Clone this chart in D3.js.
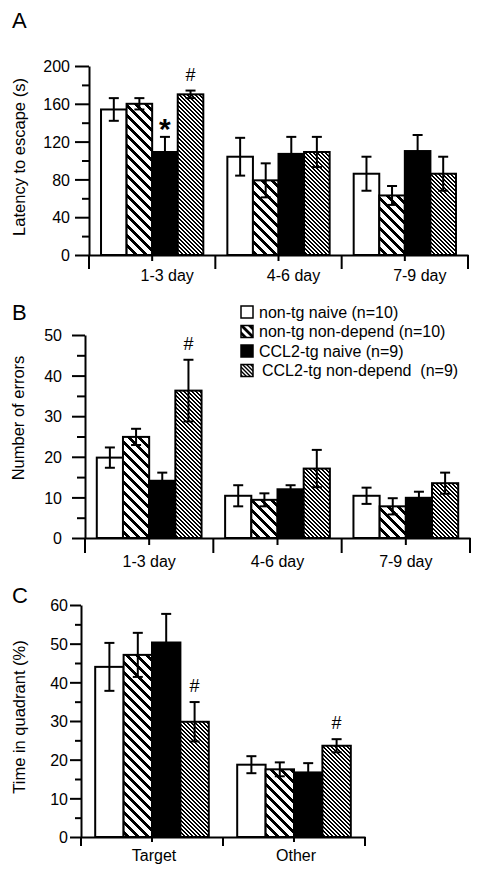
<!DOCTYPE html>
<html><head><meta charset="utf-8">
<script src="https://cdn.jsdelivr.net/npm/d3@7"></script>
<style>
body{margin:0;background:#fff}
svg{display:block}
text{font-family:"Liberation Sans",Arial,Helvetica,sans-serif;fill:#000}
</style>
</head><body>
<svg id="c" width="482" height="875"></svg>
<script>
// ---------------- DATA ----------------
const series = ["non-tg naive (n=10)", "non-tg non-depend (n=10)", "CCL2-tg naive (n=9)", "CCL2-tg non-depend  (n=9)"];
const dayCats = ["1-3 day", "4-6 day", "7-9 day"];
const quadCats = ["Target", "Other"];

const latencyMean = [[154, 160, 109, 170], [104, 79, 107, 109], [86, 63, 110, 86]];
const latencyErr  = [[12, 6, 16, 4], [20, 18, 18, 16], [18, 10, 17, 18]];
const errorsMean  = [[19.8, 24.9, 14.1, 36.3], [10.4, 9.4, 12.0, 17.1], [10.4, 7.8, 9.9, 13.5]];
const errorsErr   = [[2.5, 2.0, 2.0, 7.6], [2.6, 1.6, 1.0, 4.6], [2.0, 2.0, 1.5, 2.6]];
const quadMean    = [[44.0, 47.1, 50.3, 29.8], [18.7, 17.5, 16.7, 23.6]];
const quadErr     = [[6.2, 5.7, 7.4, 5.1], [2.2, 1.8, 2.4, 1.7]];

const latencyTicks = [0, 40, 80, 120, 160, 200];
const latencyMinor = [20, 60, 100, 140, 180];
const errorsTicks  = [0, 10, 20, 30, 40, 50];
const errorsMinor  = [5, 15, 25, 35, 45];
const quadTicks    = [0, 10, 20, 30, 40, 50, 60];
const quadMinor    = [5, 15, 25, 35, 45, 55];

const marksA = [{g: 0, s: 2, t: "*"}, {g: 0, s: 3, t: "#"}];
const marksB = [{g: 0, s: 3, t: "#"}];
const marksC = [{g: 0, s: 3, t: "#"}, {g: 1, s: 3, t: "#"}];

// ---------------- DRAW ----------------
const svg = d3.select("#c");
const defs = svg.append("defs");
// pixel-crisp diagonal stripes; dir = 1 gives "\" , dir = -1 gives "/"
function stripe(id, n, k, dir) {
  const p = defs.append("pattern").attr("id", id)
    .attr("patternUnits", "userSpaceOnUse").attr("width", n).attr("height", n);
  p.append("rect").attr("width", n).attr("height", n).attr("fill", "#fff");
  const cells = [];
  for (let yy = 0; yy < n; yy++) for (let xx = 0; xx < n; xx++) {
    const d = ((dir * (xx - yy)) % n + n) % n;
    if (d < k) cells.push([xx, yy]);
  }
  p.selectAll("rect.px").data(cells).join("rect").attr("class", "px")
    .attr("x", c => c[0]).attr("y", c => c[1]).attr("width", 1).attr("height", 1)
    .attr("fill", "#000").attr("shape-rendering", "crispEdges");
}
stripe("hatch", 10, 4, 1);
stripe("dense", 4, 2, 1);
stripe("legHatch", 8, 4, -1);
stripe("legDense", 4, 2, -1);
const fills = ["#fff", "url(#hatch)", "#000", "url(#dense)"];
const legFills = ["#fff", "url(#legHatch)", "#000", "url(#legDense)"];

function panel(cfg) {
  const g = svg.append("g");
  const y = d3.scaleLinear().domain([0, cfg.max]).range([cfg.yBot, cfg.yTop]);
  const x0 = d3.scaleBand().domain(cfg.cats).range([cfg.xL, cfg.xR]).padding(0);
  const x1 = d3.scaleBand().domain(d3.range(series.length)).range([0, x0.bandwidth()])
    .paddingInner(0).paddingOuter(cfg.outer);
  const bw = x1.bandwidth();
  const data = cfg.cats.flatMap((c, gi) => cfg.means[gi].map((v, si) => ({c, gi, si, v, e: cfg.errs[gi][si]})));

  g.selectAll("rect.bar").data(data).join("rect").attr("class", "bar")
    .attr("x", d => x0(d.c) + x1(d.si)).attr("width", bw)
    .attr("y", d => y(d.v)).attr("height", d => y(0) - y(d.v))
    .attr("fill", d => fills[d.si]).attr("stroke", "#000").attr("stroke-width", 2);

  const eb = g.selectAll("g.err").data(data).join("g").attr("class", "err")
    .attr("stroke", "#000").attr("stroke-width", 2);
  eb.append("line")
    .attr("x1", d => x0(d.c) + x1(d.si) + bw / 2).attr("x2", d => x0(d.c) + x1(d.si) + bw / 2)
    .attr("y1", d => y(d.v - d.e)).attr("y2", d => y(d.v + d.e));
  eb.append("line")
    .attr("x1", d => x0(d.c) + x1(d.si) + bw / 2 - 5).attr("x2", d => x0(d.c) + x1(d.si) + bw / 2 + 5)
    .attr("y1", d => y(d.v + d.e)).attr("y2", d => y(d.v + d.e));
  eb.filter(d => d.si !== 2).append("line")
    .attr("x1", d => x0(d.c) + x1(d.si) + bw / 2 - 5).attr("x2", d => x0(d.c) + x1(d.si) + bw / 2 + 5)
    .attr("y1", d => y(d.v - d.e)).attr("y2", d => y(d.v - d.e));

  // y axis
  const ya = g.append("g").attr("transform", `translate(${cfg.xL},0)`)
    .call(d3.axisLeft(y).tickValues(cfg.ticks).tickSize(cfg.majLen).tickSizeOuter(0)
      .tickPadding(cfg.tickPad).tickFormat(d3.format("d")));
  const ym = g.append("g").attr("transform", `translate(${cfg.xL},0)`)
    .call(d3.axisLeft(y).tickValues(cfg.minor).tickSize(cfg.minLen).tickFormat(""));
  ym.select(".domain").remove();

  // x axis
  const xa = g.append("g").attr("transform", `translate(0,${cfg.yBot})`)
    .call(d3.axisBottom(x0).tickSize(cfg.xShort).tickSizeOuter(0));
  xa.selectAll("text").attr("y", cfg.labOff).attr("dy", 0).attr("dx", cfg.labDx);
  const bounds = cfg.cats.map(c => x0(c)).concat([cfg.xR]);
  xa.selectAll("line.bound").data(bounds).join("line").attr("class", "bound")
    .attr("x1", d => d).attr("x2", d => d).attr("y1", 0).attr("y2", cfg.xLong).attr("stroke", "#000");

  [ya, ym, xa].forEach(a => {
    a.selectAll("path,line").attr("stroke", "#000").attr("stroke-width", 2);
    a.selectAll("text").attr("font-size", 16).attr("font-family", null);
  });
  ya.selectAll("text").attr("dy", "0.36em");

  // y title
  g.append("text").attr("transform", `translate(${cfg.titleX},${cfg.titleY}) rotate(-90)`)
    .attr("text-anchor", "middle").attr("dy", "0.36em").attr("font-size", 16.5).text(cfg.title);
  // panel letter
  g.append("text").attr("x", 12).attr("y", cfg.letterY).attr("font-size", 22).text(cfg.letter);

  // significance marks
  cfg.marks.forEach(m => {
    const v = cfg.means[m.g][m.s] + cfg.errs[m.g][m.s];
    const cx = x0(cfg.cats[m.g]) + x1(m.s) + bw / 2;
    if (m.t === "*") {
      g.append("text").attr("x", cx).attr("y", y(v) + 2).attr("text-anchor", "middle")
        .attr("font-size", 30).attr("font-weight", "bold").text(m.t);
    } else {
      g.append("text").attr("x", cx).attr("y", y(v) - 10).attr("text-anchor", "middle")
        .attr("font-size", 18).text(m.t);
    }
  });
}

panel({letter: "A", letterY: 28, title: "Latency to escape (s)", titleX: 19, titleY: 157,
  cats: dayCats, means: latencyMean, errs: latencyErr, ticks: latencyTicks, minor: latencyMinor, max: 200,
  xL: 89, xR: 468, yTop: 66, yBot: 255, outer: 0.47, majLen: 14, minLen: 7, tickPad: 5,
  xShort: 6, xLong: 14, labOff: 26, labDx: 15, marks: marksA});
panel({letter: "B", letterY: 320, title: "Number of errors", titleX: 18.5, titleY: 418,
  cats: dayCats, means: errorsMean, errs: errorsErr, ticks: errorsTicks, minor: errorsMinor, max: 50,
  xL: 85, xR: 470, yTop: 335, yBot: 538, outer: 0.45, majLen: 13, minLen: 8, tickPad: 10,
  xShort: 7, xLong: 15, labOff: 29, labDx: 0, marks: marksB});
panel({letter: "C", letterY: 603, title: "Time in quadrant (%)", titleX: 19.5, titleY: 717,
  cats: quadCats, means: quadMean, errs: quadErr, ticks: quadTicks, minor: quadMinor, max: 60,
  xL: 81, xR: 365, yTop: 605, yBot: 837, outer: 0.5, majLen: 11, minLen: 6, tickPad: 2,
  xShort: 5, xLong: 9, labOff: 24, labDx: 2, marks: marksC});

// legend
const leg = svg.append("g").selectAll("g").data(series).join("g")
  .attr("transform", (d, i) => `translate(241,${312 + i * 19.5})`);
leg.append("rect").attr("x", 0).attr("y", -6).attr("width", 12).attr("height", 12)
  .attr("fill", (d, i) => legFills[i]).attr("stroke", "#000").attr("stroke-width", 1.5);
leg.append("text").attr("x", (d, i) => i === 3 ? 21 : 18).attr("dy", "0.36em")
  .attr("font-size", 16).style("white-space", "pre").text(d => d);
</script>
</body></html>
